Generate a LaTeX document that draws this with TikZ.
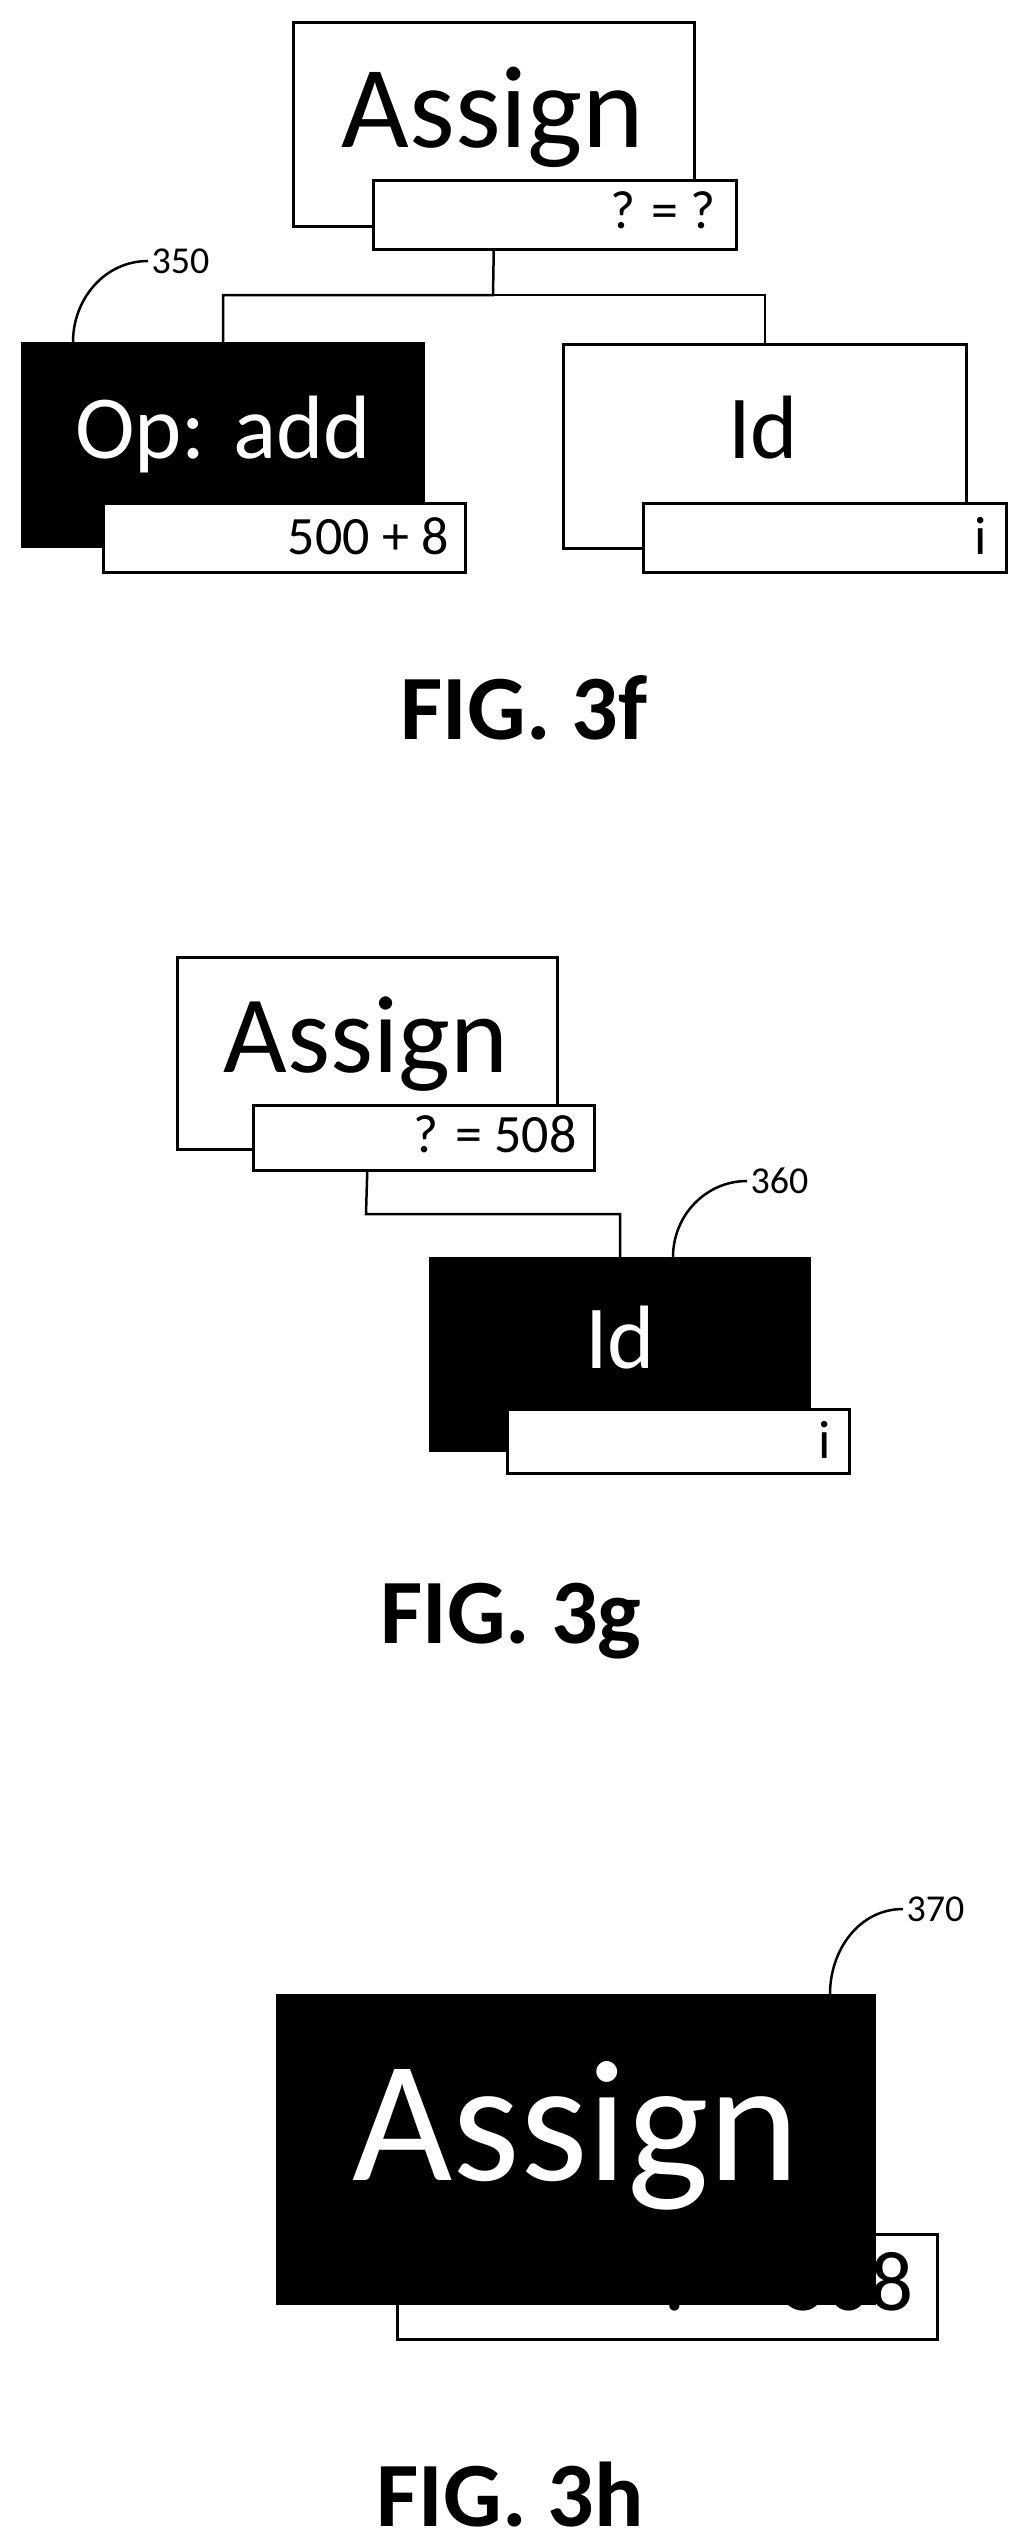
\documentclass[tikz,border=0pt]{standalone}
\usepackage{fontspec}
\setmainfont{Carlito}
\usetikzlibrary{positioning}
\tikzset{
  tnode/.style = {draw, line width=2.5pt, fill=white, anchor=north west, inner sep=0pt},
  dnode/.style = {fill=black, anchor=north west, inner sep=0pt},
  vbox/.style  = {draw, line width=2.5pt, fill=white, anchor=north west, inner sep=0pt},
  conn/.style  = {line width=2.5pt},
  lead/.style  = {line width=2.5pt},
  refnum/.style = {anchor=west, font=\fontsize{38}{40}\selectfont},
  figcap/.style = {font=\fontsize{92}{96}\selectfont\bfseries}
}
\newcommand{\fsz}[1]{\fontsize{#1}{#1}\selectfont}
\begin{document}
\begin{tikzpicture}[x=1pt, y=-1pt]
  \useasboundingbox (0,0) rectangle (1016,2544);
  % FIG. 3f
  \node (asgf) [tnode, minimum width=401pt, minimum height=204pt] at (292,21) {};
  \node (asgft) [anchor=base, font=\fsz{117}] at (493,147) {Assign};
  \node (asgfv) [vbox, minimum width=363pt, minimum height=69pt] at (372,179) {};
  \node (asgfvt) [anchor=base east, font=\fsz{54}] at (719,228) {? = ?};
  \node (opf) [dnode, minimum width=404pt, minimum height=206pt] at (21,342) {};
  \node (opft) [anchor=base, text=white, font=\fsz{90}] at (223,458) {Op: add};
  \node (opfv) [vbox, minimum width=362pt, minimum height=69pt] at (102,502) {};
  \node (opfvt) [anchor=base east, font=\fsz{54}] at (452,554) {500 + 8};
  \node (idf) [tnode, minimum width=403pt, minimum height=204pt] at (562,343) {};
  \node (idft) [anchor=base, font=\fsz{90}] at (763,458) {Id};
  \node (idfv) [vbox, minimum width=363pt, minimum height=69pt] at (642,502) {};
  \node (idfvt) [anchor=base east, font=\fsz{54}] at (990,554) {i};
  \draw[conn] (asgf.south |- asgfv.south) -- (493,295) -| (opf.north);
  \draw[conn] (493,295) -| (idf.north);
  \node (n350) [refnum] at (148,261) {350};
  \draw[lead] ([xshift=52pt]opf.north west) to[out=90, in=180] (n350.west);
  \node (capf) [figcap] at (524,708) {FIG. 3f};
  % FIG. 3g
  \node (asgg) [tnode, minimum width=380pt, minimum height=192pt] at (176,956) {};
  \node (asggt) [anchor=base, font=\fsz{110}] at (366,1072) {Assign};
  \node (asggv) [vbox, minimum width=341pt, minimum height=65pt] at (252,1104) {};
  \node (asggvt) [anchor=base east, font=\fsz{54}] at (580,1152) {? = 508};
  \node (idg) [dnode, minimum width=382pt, minimum height=195pt] at (429,1257) {};
  \node (idgt) [anchor=base, text=white, font=\fsz{90}] at (620,1368) {Id};
  \node (idgv) [vbox, minimum width=342pt, minimum height=64pt] at (506,1408) {};
  \node (idgvt) [anchor=base east, font=\fsz{54}] at (834,1458) {i};
  \draw[conn] (asgg.south |- asggv.south) -- (366,1214) -| (idg.north);
  \node (n360) [refnum] at (747,1181) {360};
  \draw[lead] ([xshift=244pt]idg.north west) to[out=90, in=180] (n360.west);
  \node (capg) [figcap] at (511,1621) {FIG. 3g};
  % FIG. 3h
  \node (asghv) [vbox, minimum width=540pt, minimum height=105pt] at (396,2233) {};
  \node (asghvt) [anchor=base east, font=\fsz{85}] at (917,2310) {? = 508};
  \node (asgh) [dnode, minimum width=600pt, minimum height=311pt] at (276,1994) {};
  \node (asght) [anchor=base, text=white, font=\fsz{173}] at (576,2180) {Assign};
  \node (n370) [refnum] at (903,1909) {370};
  \draw[lead] ([xshift=554pt]asgh.north west) to[out=90, in=180] (n370.west);
  \node (caph) [figcap] at (510,2495) {FIG. 3h};
\end{tikzpicture}
\end{document}
